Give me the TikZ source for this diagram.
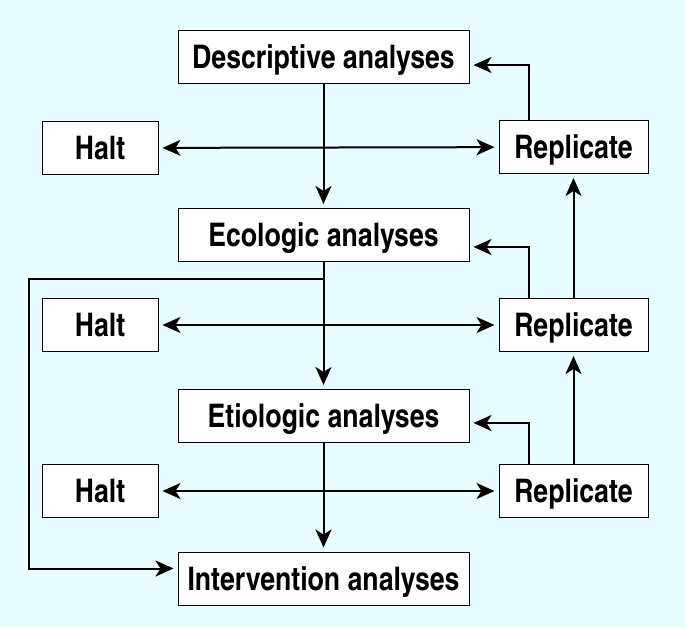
\documentclass[tikz,border=0pt]{standalone}
\usepackage{fontspec}
\setmainfont{texgyreheroscn-bold.otf}
\usepackage{tikz}
\usetikzlibrary{arrows.meta,positioning}
\definecolor{bgcyan}{RGB}{232,253,255}

\begin{document}
\begin{tikzpicture}
[x=1pt,y=-1pt,>={Stealth[length=18pt,width=16pt,inset=5pt]},
 box/.style = {draw, fill=white, line width=1pt, minimum height=53pt, inner sep=0pt,
   text height=23pt, text depth=0pt, font=\fontsize{32.5}{38}\selectfont},
 stage/.style = {box, minimum width=291pt},
 halt/.style = {box, minimum width=116pt},
 repl/.style = {box, minimum width=149pt},
 flow/.style = {line width=2pt, shorten >=4pt},]
\fill[bgcyan] (0,0) rectangle (685,627);
\useasboundingbox (0,0) rectangle (685,627);
% analysis stages
\node (desc) at (323.5,57)[stage] {Descriptive analyses};
\node (eco) at (323.5,235)[stage] {Ecologic analyses};
\node (etio) at (323.5,416)[stage] {Etiologic analyses};
\node (interv) at (323.5,578.5)[stage] {Intervention analyses};
% halt and replicate
\node (halt1) at (100,148)[halt] {Halt};
\node (halt2) at (100,325)[halt] {Halt};
\node (halt3) at (100,491)[halt] {Halt};
\node (rep1) at (573.5,147)[repl] {Replicate};
\node (rep2) at (573.5,325)[repl] {Replicate};
\node (rep3) at (573.5,491)[repl] {Replicate};
\coordinate (split) at (323.5,279);
\coordinate (loopcorner) at (29,279);
\draw[flow,<->,shorten <=4pt] (halt1) -- (rep1);
\draw[flow,<->,shorten <=4pt] (halt2) -- (rep2);
\draw[flow,<->,shorten <=4pt] (halt3) -- (rep3);
\draw[flow,->] (desc) -- (eco);
\draw[flow,->] (eco) -- (etio);
\draw[flow,->] (etio) -- (interv);
\draw[flow,->] (split) -- (loopcorner) |- ([yshift=10pt]interv.west);
\draw[flow,->] ([xshift=30pt]rep1.north west) |- ([yshift=-8pt]desc.east);
\draw[flow,->] ([xshift=30pt]rep2.north west) |- ([yshift=-12pt]eco.east);
\draw[flow,->] ([xshift=30pt]rep3.north west) |- ([yshift=-7pt]etio.east);
\draw[flow,->] (rep3) -- (rep2);
\draw[flow,->] (rep2) -- (rep1);
\end{tikzpicture}
\end{document}
